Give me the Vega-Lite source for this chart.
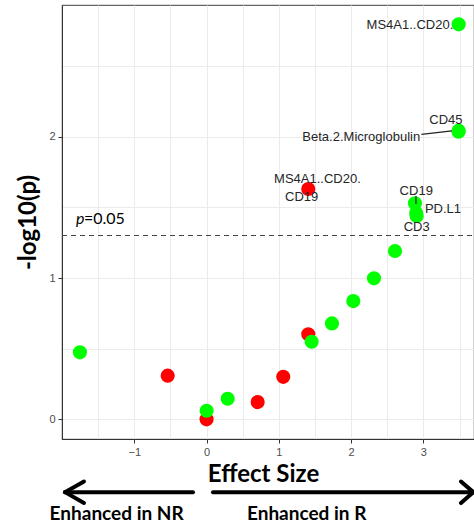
{
  "$schema": "https://vega.github.io/schema/vega-lite/v6.json",
  "width": 412,
  "height": 434,
  "autosize": {"type": "none"},
  "padding": {"left": 62, "top": 5, "right": 0, "bottom": 88},
  "background": "white",
  "config": {
    "view": {"stroke": "#666666", "strokeWidth": 1.2},
    "axis": {
      "labelFont": "Liberation Sans",
      "labelFontSize": 11,
      "labelColor": "#4d4d4d",
      "titleFont": "Lato",
      "titleFontWeight": "bold",
      "titleColor": "#000000",
      "domainColor": "#333333",
      "tickSize": 4,
      "labelPadding": 3,
      "format": "~g"
    }
  },
  "datasets": {
    "pts": [
      {"name": "MS4A1..CD20.CD19", "x": 1.407, "y": 1.63, "group": "NR"},
      {"name": "r2", "x": 1.407, "y": 0.602, "group": "NR"},
      {"name": "r3", "x": -0.538, "y": 0.309, "group": "NR"},
      {"name": "r4", "x": 1.061, "y": 0.301, "group": "NR"},
      {"name": "r5", "x": 0.707, "y": 0.122, "group": "NR"},
      {"name": "r6", "x": 0.0, "y": 0.0, "group": "NR"},
      {"name": "MS4A1..CD20.", "x": 3.488, "y": 2.795, "group": "R"},
      {"name": "CD45", "x": 3.488, "y": 2.043, "group": "R"},
      {"name": "Beta.2.Microglobulin", "x": 3.486, "y": 2.035, "group": "R"},
      {"name": "CD19", "x": 2.883, "y": 1.529, "group": "R"},
      {"name": "PD.L1", "x": 2.9, "y": 1.46, "group": "R"},
      {"name": "CD3", "x": 2.907, "y": 1.439, "group": "R"},
      {"name": "g7", "x": 2.607, "y": 1.191, "group": "R"},
      {"name": "g8", "x": 2.316, "y": 0.998, "group": "R"},
      {"name": "g9", "x": 2.03, "y": 0.837, "group": "R"},
      {"name": "g10", "x": 1.735, "y": 0.679, "group": "R"},
      {"name": "g11", "x": 1.454, "y": 0.549, "group": "R"},
      {"name": "g12", "x": -1.752, "y": 0.474, "group": "R"},
      {"name": "g13", "x": 0.292, "y": 0.146, "group": "R"},
      {"name": "g14", "x": 0.001, "y": 0.061, "group": "R"}
    ],
    "labs": [
      {"label": "MS4A1..CD20.", "x": 2.814, "y": 2.793},
      {"label": "CD45", "x": 3.312, "y": 2.118},
      {"label": "Beta.2.Microglobulin", "x": 2.14, "y": 1.998},
      {"label": "MS4A1..CD20.", "x": 1.534, "y": 1.699},
      {"label": "CD19", "x": 1.316, "y": 1.575},
      {"label": "CD19", "x": 2.901, "y": 1.618},
      {"label": "PD.L1", "x": 3.271, "y": 1.49},
      {"label": "CD3", "x": 2.907, "y": 1.359}
    ],
    "segs": [
      {"x": 2.973, "y": 2.017, "x2": 3.395, "y2": 2.041},
      {"x": 2.897, "y": 1.58, "x2": 2.897, "y2": 1.524}
    ],
    "arrows": [
      {"x": -1.959, "y": -0.515, "x2": -0.188, "y2": -0.515},
      {"x": -1.959, "y": -0.515, "x2": -1.696, "y2": -0.44},
      {"x": -1.959, "y": -0.515, "x2": -1.696, "y2": -0.592},
      {"x": 0.089, "y": -0.515, "x2": 3.69, "y2": -0.515},
      {"x": 3.69, "y": -0.515, "x2": 3.52, "y2": -0.44},
      {"x": 3.69, "y": -0.515, "x2": 3.52, "y2": -0.592}
    ],
    "notes": [
      {"label": "Enhanced in NR", "x": -1.244, "y": -0.67},
      {"label": "Enhanced in R", "x": 1.385, "y": -0.67}
    ]
  },
  "encoding": {
    "x": {
      "field": "x",
      "type": "quantitative",
      "scale": {"domain": [-2, 3.7], "nice": false, "zero": false},
      "axis": {
        "title": "Effect Size",
        "titleFontSize": 24,
        "titleX": 201,
        "values": [-1.5, -1, -0.5, 0, 0.5, 1, 1.5, 2, 2.5, 3, 3.5],
        "labelExpr": "datum.value % 1 === 0 ? datum.label : ''",
        "tickColor": {"condition": {"test": "datum.value % 1 === 0", "value": "#333333"}, "value": "transparent"},
        "gridColor": "#ebebeb",
        "titlePadding": 5
      }
    },
    "y": {
      "field": "y",
      "type": "quantitative",
      "scale": {"domain": [-0.139, 2.932], "nice": false, "zero": false},
      "axis": {
        "title": "-log10(p)",
        "titleFontSize": 24,
        "values": [0, 0.5, 1, 1.5, 2, 2.5],
        "labelExpr": "datum.value % 1 === 0 ? datum.label : ''",
        "tickColor": {"condition": {"test": "datum.value % 1 === 0", "value": "#333333"}, "value": "transparent"},
        "gridColor": "#ebebeb",
        "titlePadding": 8
      }
    }
  },
  "layer": [
    {
      "data": {"values": [{"x": -2, "x2": 3.7, "y": 1.301}]},
      "mark": {"type": "rule", "color": "#444444", "strokeDash": [5, 4], "strokeWidth": 1.2},
      "encoding": {"x2": {"field": "x2"}}
    },
    {
      "data": {"name": "pts"},
      "mark": {"type": "circle", "size": 200, "opacity": 1},
      "encoding": {
        "color": {"field": "group", "type": "nominal", "scale": {"domain": ["NR", "R"], "range": ["#ff0000", "#00ff00"]}, "legend": null}
      }
    },
    {
      "data": {"name": "segs"},
      "mark": {"type": "rule", "color": "#222222", "strokeWidth": 1.2},
      "encoding": {"x2": {"field": "x2"}, "y2": {"field": "y2"}}
    },
    {
      "data": {"name": "labs"},
      "mark": {"type": "text", "font": "Liberation Sans", "fontSize": 13, "color": "#262626", "align": "center", "baseline": "middle"},
      "encoding": {"text": {"field": "label"}}
    },
    {
      "data": {"values": [{"x": -1.807, "y": 1.382, "t": "p"}]},
      "mark": {"type": "text", "font": "Lato", "fontSize": 16, "fontStyle": "italic", "color": "#000000", "align": "left", "baseline": "alphabetic"},
      "encoding": {"text": {"field": "t"}}
    },
    {
      "data": {"values": [{"x": -1.696, "y": 1.382, "t": "=0.05"}]},
      "mark": {"type": "text", "font": "Lato", "fontSize": 16, "color": "#000000", "align": "left", "baseline": "alphabetic"},
      "encoding": {"text": {"field": "t"}}
    },
    {
      "data": {"name": "arrows"},
      "mark": {"type": "rule", "color": "#000000", "strokeWidth": 4, "strokeCap": "round"},
      "encoding": {"x2": {"field": "x2"}, "y2": {"field": "y2"}}
    },
    {
      "data": {"name": "notes"},
      "mark": {"type": "text", "font": "Lato", "fontSize": 19, "fontWeight": "bold", "color": "#000000", "align": "center", "baseline": "middle"},
      "encoding": {"text": {"field": "label"}}
    }
  ]
}
